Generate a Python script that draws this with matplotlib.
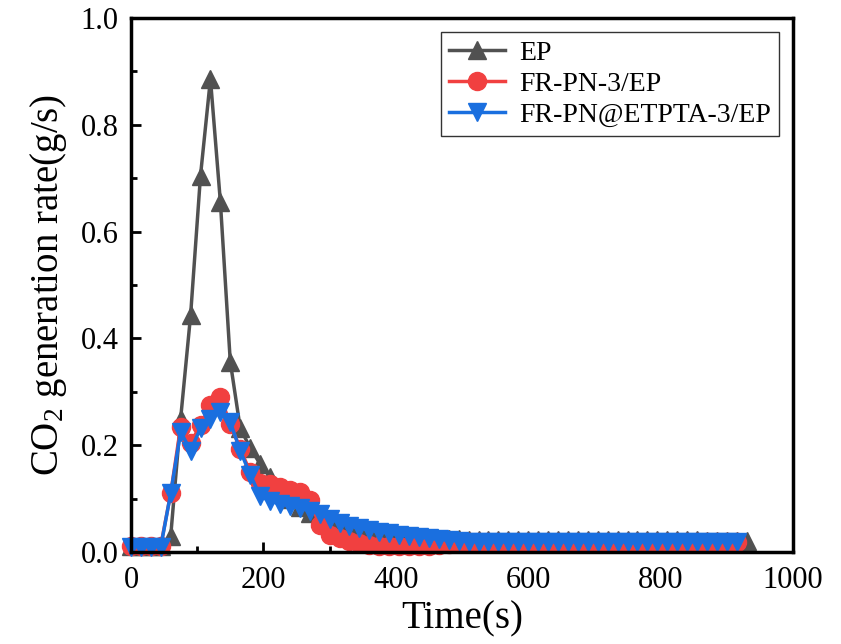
import matplotlib
matplotlib.use("Agg")
import matplotlib.pyplot as plt
from matplotlib.ticker import MultipleLocator
import numpy as np

# ---------------------------------------------------------------------------
# Data (read off the reference, sampled every 15 s)
# ---------------------------------------------------------------------------

step_s = 15

ep = [0.012, 0.012, 0.012, 0.012, 0.030, 0.250, 0.443, 0.705, 0.886, 0.656,
      0.356, 0.232, 0.195, 0.165, 0.140, 0.118, 0.100, 0.085, 0.073, 0.063,
      0.055, 0.048, 0.043, 0.039, 0.035, 0.032, 0.030, 0.028, 0.026, 0.025,
      0.024, 0.024, 0.024, 0.024, 0.023, 0.023, 0.023, 0.023, 0.023, 0.023,
      0.023, 0.023, 0.022, 0.022, 0.022, 0.022, 0.022, 0.022, 0.022, 0.022,
      0.022, 0.022, 0.022, 0.022, 0.022, 0.022, 0.022, 0.022, 0.021, 0.021,
      0.021, 0.021, 0.020]

fr_pn = [0.012, 0.012, 0.012, 0.012, 0.110, 0.235, 0.205, 0.237, 0.275, 0.290,
         0.240, 0.193, 0.150, 0.130, 0.127, 0.122, 0.117, 0.112, 0.097, 0.050,
         0.032, 0.026, 0.021, 0.017, 0.014, 0.012, 0.011, 0.011, 0.011, 0.011,
         0.012, 0.013, 0.015, 0.017, 0.018, 0.018, 0.018, 0.018, 0.018, 0.018,
         0.018, 0.018, 0.018, 0.018, 0.018, 0.018, 0.018, 0.018, 0.018, 0.018,
         0.018, 0.018, 0.018, 0.018, 0.018, 0.018, 0.018, 0.018, 0.018, 0.018,
         0.018, 0.018]

fr_pn_etpta = [0.010, 0.010, 0.010, 0.010, 0.110, 0.225, 0.190, 0.232, 0.250, 0.263,
               0.243, 0.190, 0.145, 0.105, 0.095, 0.090, 0.086, 0.082, 0.077, 0.072,
               0.062, 0.055, 0.049, 0.045, 0.041, 0.038, 0.035, 0.032, 0.030, 0.028,
               0.026, 0.024, 0.022, 0.021, 0.019, 0.019, 0.019, 0.019, 0.019, 0.019,
               0.019, 0.019, 0.019, 0.019, 0.019, 0.019, 0.019, 0.019, 0.019, 0.019,
               0.019, 0.019, 0.019, 0.019, 0.019, 0.019, 0.019, 0.019, 0.019, 0.019,
               0.019, 0.019]

series = [
    ("EP",                ep,          "#515151", "^"),
    ("FR-PN-3/EP",        fr_pn,       "#F14040", "o"),
    ("FR-PN@ETPTA-3/EP",  fr_pn_etpta, "#1A6FDF", "v"),
]

# ---------------------------------------------------------------------------
# Style
# ---------------------------------------------------------------------------

plt.rcParams["font.family"] = ["Liberation Serif", "DejaVu Serif"]
plt.rcParams["mathtext.fontset"] = "custom"
plt.rcParams["mathtext.rm"] = "Liberation Serif"
plt.rcParams["mathtext.it"] = "Liberation Serif:italic"

fig = plt.figure(figsize=(8.41, 6.44), dpi=100)
ax = fig.add_axes([131 / 841, 1 - 552 / 644, (793 - 131) / 841, (552 - 18) / 644])

for label, vals, color, marker in series:
    t = np.arange(len(vals)) * step_s
    ax.plot(t, vals, color=color, marker=marker, markersize=13, linewidth=2.5,
            label=label, clip_on=False)

ax.set_xlim(0, 1000)
ax.set_ylim(0, 1.0)
ax.xaxis.set_major_locator(MultipleLocator(200))
ax.xaxis.set_minor_locator(MultipleLocator(100))
ax.yaxis.set_major_locator(MultipleLocator(0.2))
ax.yaxis.set_minor_locator(MultipleLocator(0.1))
ax.yaxis.set_major_formatter(plt.FuncFormatter(lambda v, _: f"{v:.1f}"))

ax.tick_params(which="both", direction="in", top=False, right=False,
               labelsize=22, width=2)
ax.tick_params(which="major", length=7)
ax.tick_params(axis="x", which="major", pad=10)
ax.tick_params(axis="y", which="major", pad=9)
ax.tick_params(which="minor", length=4)
for sp in ax.spines.values():
    sp.set_linewidth(2.5)

ax.set_xlabel("Time(s)", fontsize=28, labelpad=4)
ax.set_ylabel(r"CO$_\mathrm{2}$ generation rate(g/s)", fontsize=28, labelpad=8)

leg = ax.legend(loc="upper right", fontsize=20, frameon=True, fancybox=False,
                handlelength=2.0, borderpad=0.3, labelspacing=0.2,
                handletextpad=0.5, borderaxespad=0.5)
leg.get_frame().set_edgecolor("black")
leg.get_frame().set_linewidth(1.0)

fig.savefig("out.png", dpi=100)
plt.close(fig)
